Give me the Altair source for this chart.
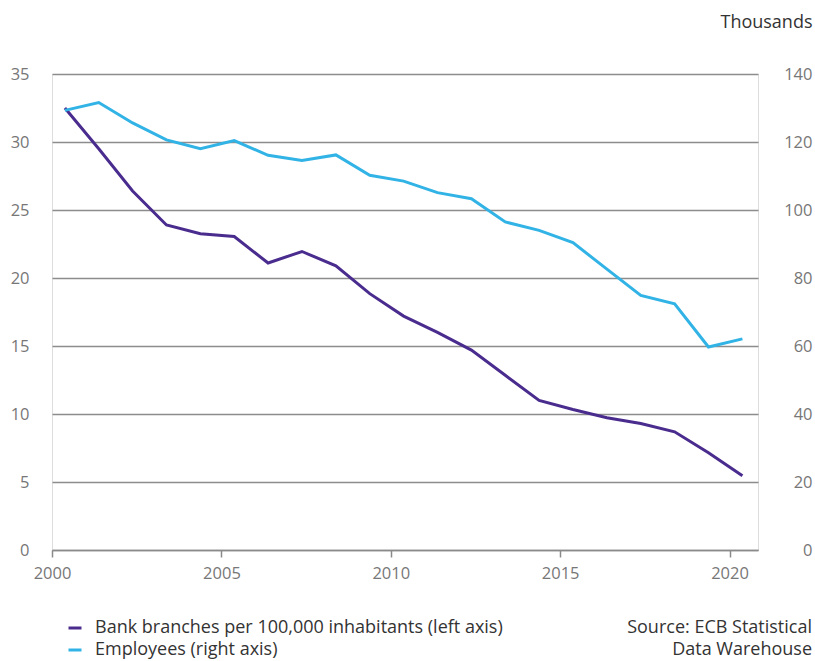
import altair as alt
import pandas as pd

years = list(range(2000, 2021))
branches = [32.5, 29.5, 26.4, 23.9, 23.25, 23.05, 21.1, 21.95, 20.9, 18.85, 17.2,
            16.0, 14.7, 12.85, 11.0, 10.33, 9.72, 9.3, 8.69, 7.15, 5.46]
employees = [129.3, 131.6, 125.6, 120.6, 118.0, 120.4, 116.1, 114.6, 116.2, 110.2, 108.5,
             105.1, 103.3, 96.5, 94.0, 90.4, 82.6, 74.9, 72.4, 59.7, 62.1]
series_names = ["Bank branches per 100,000 inhabitants (left axis)", "Employees (right axis)"]
series_colors = ["#4a2c8e", "#31b3e6"]
left_ticks = [0, 5, 10, 15, 20, 25, 30, 35]
right_ticks = [0, 20, 40, 60, 80, 100, 120, 140]
x_tick_years = [2000, 2005, 2010, 2015, 2020]
source_lines = ["Source: ECB Statistical", "Data Warehouse"]

FONT = "Open Sans"
AXIS_FS = 16.5
TEXT_FS = 18
dates = [f"{y}-05-19" for y in years]
df_b = pd.DataFrame({"date": dates, "branches": branches, "series": series_names[0]})
df_e = pd.DataFrame({"date": dates, "employees": employees, "series": series_names[1]})

x_enc = alt.X(
    "date:T",
    scale=alt.Scale(domain=["2000-01-01", "2020-11-03"]),
    axis=alt.Axis(
        values=[alt.DateTime(year=y, month=1, date=1) for y in x_tick_years],
        format="%Y", title=None, grid=False,
        domain=True, domainColor="#8a8a8a", domainWidth=1.5,
        ticks=True, tickColor="#8a8a8a", tickSize=7, tickWidth=1.5,
        labelPadding=8, labelFontSize=AXIS_FS, labelColor="#777777", labelFont=FONT,
        labelFlush=False,
    ),
)

color_scale = alt.Scale(domain=series_names, range=series_colors)
legend = alt.Legend(
    orient="none", legendX=14, legendY=545, title=None,
    symbolType="stroke", symbolSize=169, symbolStrokeWidth=3,
    labelFontSize=TEXT_FS, labelColor="#333333", labelFont=FONT,
    rowPadding=4, labelOffset=11, padding=0, labelLimit=700,
)
color_enc = alt.Color("series:N", scale=color_scale, legend=legend)

left = alt.Chart(df_b).mark_line(strokeWidth=3).encode(
    x=x_enc,
    y=alt.Y(
        "branches:Q",
        scale=alt.Scale(domain=[0, 35], nice=False),
        axis=alt.Axis(
            orient="left", values=left_ticks, title=None,
            grid=True, gridColor="#8c8c8c", gridWidth=1.5,
            domain=False, ticks=False, tickSize=0,
            labelPadding=23, labelFontSize=AXIS_FS, labelColor="#777777", labelFont=FONT,
        ),
    ),
    color=color_enc,
)

right = alt.Chart(df_e).mark_line(strokeWidth=3).encode(
    x=x_enc,
    y=alt.Y(
        "employees:Q",
        scale=alt.Scale(domain=[0, 140], nice=False),
        axis=alt.Axis(
            orient="right", values=right_ticks, title="Thousands",
            grid=False, domain=False, ticks=False, tickSize=0,
            labelAlign="right", labelPadding=54,
            labelFontSize=AXIS_FS, labelColor="#777777", labelFont=FONT,
            titleAngle=0, titleAlign="right", titleBaseline="alphabetic",
            titleX=54, titleY=-47, titleFontSize=TEXT_FS, titleFontWeight="normal",
            titleColor="#333333", titleFont=FONT,
        ),
    ),
    color=color_enc,
)

source = alt.Chart(pd.DataFrame({"k": [0]})).mark_text(
    align="right", baseline="middle", fontSize=TEXT_FS, font=FONT, color="#333333",
    lineHeight=22,
).encode(
    x=alt.value(760), y=alt.value(554), text=alt.value(source_lines)
)

chart = alt.layer(left, right, source).resolve_scale(y="independent").properties(
    width=706, height=476,
    autosize=alt.AutoSizeParams(type="none"),
    padding={"left": 52, "top": 74, "right": 57, "bottom": 111},
).configure_view(stroke=None).configure(background="white")

chart.save("out.html", embed_options={"renderer": "svg", "actions": False})
